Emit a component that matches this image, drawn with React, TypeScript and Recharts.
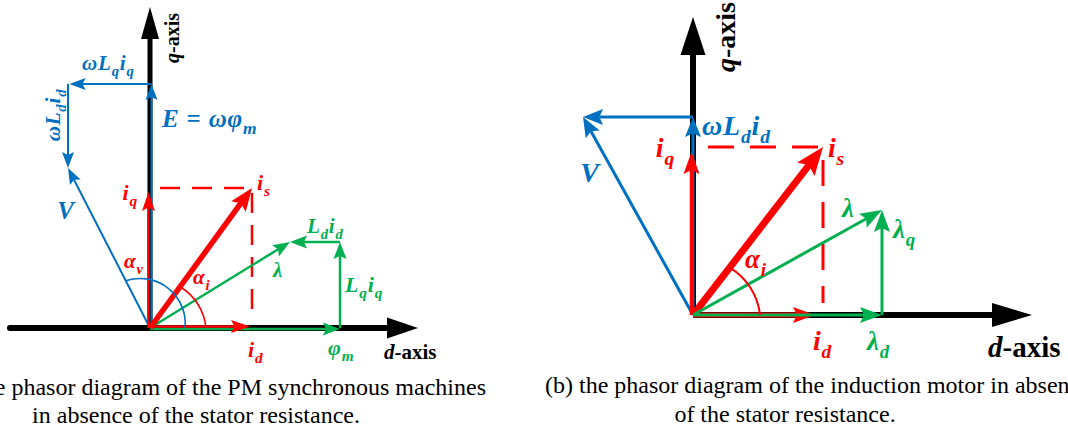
import React from 'react';
import { ComposedChart, XAxis, YAxis, ReferenceLine, ReferenceDot } from 'recharts';

// ---------------------------------------------------------------------------
// Phasor values, d/q components in drawing units
// ---------------------------------------------------------------------------

// (a) PM synchronous machine
const pmAxisExtent = [-14.0, 26.8, 32.1]; // d-axis start, d-axis end, q-axis end
const pmCurrent = [10.0, 13.6]; // i_d, i_q
const pmStatorCurrent = [10.2, 14.0]; // i_s (d, q)
const pmFlux = [19.0, 8.6, -5.0]; // φ_m, L_q·i_q, L_d·i_d
const pmVoltage = [24.4, -8.2, -8.4]; // E = ωφ_m, ωL_q·i_q, ωL_d·i_d

// (b) induction motor
const imAxisExtent = [33.9, 29.8]; // d-axis end, q-axis end
const imCurrent = [12.2, 16.3]; // i_d, i_q
const imStatorCurrent = [13.0, 16.8]; // i_s (d, q)
const imFlux = [18.9, 10.5]; // λ_d, λ_q
const imVoltage = [19.8, -11.0]; // ωL_d·i_d, horizontal drop

// captions
const captionA = ['(a) the phasor diagram of the PM synchronous machines', 'in absence of the stator resistance.'];
const captionB = ['(b) the phasor diagram of the induction motor in absence', 'of the stator resistance.'];

const BLUE = '#0070C0';
const RED = '#FF0000';
const GREEN = '#00B050';
const BLACK = '#000000';
const SERIF = "'Liberation Serif', 'Times New Roman', serif";

type Part = { t: string; sub?: boolean; up?: boolean };

// ---------------------------------------------------------------------------
// shapes
// ---------------------------------------------------------------------------

type ArrowOpts = {
  color: string;
  width: number;
  headLen: number;
  headHalf: number;
  notch?: number;
  dx?: number;
  dy?: number;
  roundStart?: boolean;
};

const arrowShape = (o: ArrowOpts) => (p: any) => {
  const ox = o.dx ?? 0;
  const oy = o.dy ?? 0;
  const x1 = p.x1 + ox;
  const y1 = p.y1 + oy;
  const x2 = p.x2 + ox;
  const y2 = p.y2 + oy;
  const len = Math.hypot(x2 - x1, y2 - y1) || 1;
  const ux = (x2 - x1) / len;
  const uy = (y2 - y1) / len;
  const nx = -uy;
  const ny = ux;
  const notch = o.notch ?? 0.82;
  const bx = x2 - ux * o.headLen;
  const by = y2 - uy * o.headLen;
  const mx = x2 - ux * o.headLen * notch;
  const my = y2 - uy * o.headLen * notch;
  const pts = [
    `${x2},${y2}`,
    `${bx + nx * o.headHalf},${by + ny * o.headHalf}`,
    `${mx},${my}`,
    `${bx - nx * o.headHalf},${by - ny * o.headHalf}`,
  ].join(' ');
  return (
    <g>
      <line
        x1={x1}
        y1={y1}
        x2={mx}
        y2={my}
        stroke={o.color}
        strokeWidth={o.width}
        strokeLinecap={o.roundStart ? 'round' : 'butt'}
      />
      <polygon points={pts} fill={o.color} />
    </g>
  );
};

const dashShape =
  (color: string, width: number, dash: string, trimStart: number, trimEnd: number) => (p: any) => {
    const len = Math.hypot(p.x2 - p.x1, p.y2 - p.y1) || 1;
    const ux = (p.x2 - p.x1) / len;
    const uy = (p.y2 - p.y1) / len;
    return (
      <line
        x1={p.x1 + ux * trimStart}
        y1={p.y1 + uy * trimStart}
        x2={p.x2 - ux * trimEnd}
        y2={p.y2 - uy * trimEnd}
        stroke={color}
        strokeWidth={width}
        strokeDasharray={dash}
      />
    );
  };

const arcShape = (color: string, width: number, r: number) => (p: any) => (
  <path
    d={`M ${p.x1} ${p.y1} A ${r} ${r} 0 0 0 ${p.x2} ${p.y2}`}
    fill="none"
    stroke={color}
    strokeWidth={width}
  />
);

const MathText = ({
  cx,
  cy,
  parts,
  size,
  color,
  anchor = 'start',
  rotate,
  spacing = 0,
}: {
  cx: number;
  cy: number;
  parts: Part[];
  size: number;
  color: string;
  anchor?: 'start' | 'middle' | 'end';
  rotate?: number;
  spacing?: number;
}) => {
  const shift = size * 0.28;
  let low = false;
  const spans = parts.map((part, i) => {
    let dy = 0;
    if (part.sub && !low) dy = shift;
    if (!part.sub && low) dy = -shift;
    low = !!part.sub;
    return (
      <tspan
        key={i}
        dy={dy || undefined}
        fontSize={part.sub ? size * 0.7 : size}
        fontStyle={part.up ? 'normal' : 'italic'}
      >
        {part.t}
      </tspan>
    );
  });
  return (
    <text
      x={cx}
      y={cy}
      fill={color}
      fontFamily={SERIF}
      fontWeight="bold"
      fontSize={size}
      letterSpacing={spacing}
      textAnchor={anchor}
      transform={rotate ? `rotate(${rotate} ${cx} ${cy})` : undefined}
    >
      {spans}
    </text>
  );
};

const labelShape =
  (parts: Part[], size: number, color: string, anchor?: 'start' | 'middle' | 'end', rotate?: number, spacing = 0.8) =>
  (p: any) => (
    <MathText cx={p.cx} cy={p.cy} parts={parts} size={size} color={color} anchor={anchor} rotate={rotate} spacing={spacing} />
  );

const axisParts = (name: string): Part[] => [{ t: name }, { t: '-axis', up: true }];

const unit = (d: number, q: number) => {
  const m = Math.hypot(d, q) || 1;
  return [d / m, q / m];
};

const seg = (a: number[], b: number[]) => [
  { x: a[0], y: a[1] },
  { x: b[0], y: b[1] },
];

// ---------------------------------------------------------------------------
// (a) PM synchronous machine
// ---------------------------------------------------------------------------

const PmDiagram = () => {
  const [dStart, dEnd, qEnd] = pmAxisExtent;
  const [id, iq] = pmCurrent;
  const [isd, isq] = pmStatorCurrent;
  const [psiM, lqIq, ldId] = pmFlux;
  const [e, wLqIq, wLdId] = pmVoltage;
  const v = [wLqIq, e + wLdId];
  const lam = [psiM + ldId, lqIq];
  const vu = unit(v[0], v[1]);
  const su = unit(isd, isq);
  const O = [0, 0];

  const blue = { color: BLUE, width: 2, headLen: 16, headHalf: 6 };
  const green = { color: GREEN, width: 2.5, headLen: 17, headHalf: 6.5 };
  const red = { color: RED, width: 2.5, headLen: 19, headHalf: 6.5 };

  return (
    <ComposedChart width={534} height={430} data={[{ x: 0, y: 0 }]} margin={{ top: 0, right: 0, bottom: 0, left: 0 }}>
      <XAxis type="number" dataKey="x" domain={[-15, 38.4]} hide allowDataOverflow />
      <YAxis type="number" dataKey="y" domain={[-10.2, 32.8]} hide allowDataOverflow />

      {/* axes */}
      <ReferenceLine segment={seg([dStart, 0], [dEnd, 0])} shape={arrowShape({ color: BLACK, width: 6, headLen: 31, headHalf: 10.5, notch: 1, roundStart: true })} />
      <ReferenceLine segment={seg(O, [0, qEnd])} shape={arrowShape({ color: BLACK, width: 5, headLen: 32, headHalf: 9, notch: 1 })} />

      {/* current projections */}
      <ReferenceLine segment={seg([0, isq], [isd, isq])} shape={dashShape(RED, 2.5, '20 12', 10, 0)} />
      <ReferenceLine segment={seg([isd, isq], [isd, 0])} shape={dashShape(RED, 2.5, '20 12', 5, 11)} />

      {/* voltage phasors */}
      <ReferenceLine segment={seg(O, [0, e])} shape={arrowShape({ ...blue, dx: 1.5 })} />
      <ReferenceLine segment={seg([0, e], [wLqIq, e])} shape={arrowShape({ ...blue, dx: 1.5 })} />
      <ReferenceLine segment={seg([wLqIq, e], [wLqIq, e + wLdId])} shape={arrowShape(blue)} />
      <ReferenceLine segment={seg(O, v)} shape={arrowShape(blue)} />

      {/* flux phasors */}
      <ReferenceLine segment={seg(O, [psiM, 0])} shape={arrowShape({ ...green, dy: 1 })} />
      <ReferenceLine segment={seg([psiM, 0], [psiM, lqIq])} shape={arrowShape(green)} />
      <ReferenceLine segment={seg([psiM, lqIq], lam)} shape={arrowShape(green)} />
      <ReferenceLine segment={seg(O, lam)} shape={arrowShape(green)} />

      {/* current phasors */}
      <ReferenceLine segment={seg(O, [id, 0])} shape={arrowShape({ ...red, dy: -1.5 })} />
      <ReferenceLine segment={seg(O, [0, iq])} shape={arrowShape({ ...red, dx: -1.5 })} />
      <ReferenceLine segment={seg(O, [isd, isq])} shape={arrowShape({ color: RED, width: 5.5, headLen: 23, headHalf: 9 })} />

      {/* angle markers */}
      <ReferenceLine segment={seg([3.5, 0], [vu[0] * 5.3, vu[1] * 5.3])} shape={arcShape(BLUE, 1.6, 45)} />
      <ReferenceLine segment={seg([5.6, 0], [su[0] * 5.1, su[1] * 5.1])} shape={arcShape(RED, 1.6, 54)} />

      {/* labels */}
      <ReferenceDot x={2.9} y={29.0} r={0} shape={labelShape(axisParts('q'), 20, BLACK, 'middle', -90, 0)} />
      <ReferenceDot x={23.4} y={-3.1} r={0} shape={labelShape(axisParts('d'), 21, BLACK, 'start', undefined, 0)} />
      <ReferenceDot x={-6.8} y={25.8} r={0} shape={labelShape([{ t: 'ω' }, { t: 'L' }, { t: 'q', sub: true }, { t: 'i' }, { t: 'q', sub: true }], 21, BLUE)} />
      <ReferenceDot x={-9.0} y={21.3} r={0} shape={labelShape([{ t: 'ω' }, { t: 'L' }, { t: 'd', sub: true }, { t: 'i' }, { t: 'd', sub: true }], 21, BLUE, 'middle', -90)} />
      <ReferenceDot x={1.2} y={20.1} r={0} shape={labelShape([{ t: 'E' }, { t: ' = ', up: true }, { t: 'ωφ' }, { t: 'm', sub: true }], 25, BLUE)} />
      <ReferenceDot x={-8.4} y={10.9} r={0} shape={labelShape([{ t: 'V' }], 25, BLUE, 'middle')} />
      <ReferenceDot x={-1.2} y={12.8} r={0} shape={labelShape([{ t: 'i' }, { t: 'q', sub: true }], 22, RED, 'end')} />
      <ReferenceDot x={10.7} y={13.8} r={0} shape={labelShape([{ t: 'i' }, { t: 's', sub: true }], 22, RED)} />
      <ReferenceDot x={9.8} y={-2.9} r={0} shape={labelShape([{ t: 'i' }, { t: 'd', sub: true }], 22, RED)} />
      <ReferenceDot x={17.8} y={-2.7} r={0} shape={labelShape([{ t: 'φ' }, { t: 'm', sub: true }], 22, GREEN)} />
      <ReferenceDot x={19.5} y={3.6} r={0} shape={labelShape([{ t: 'L' }, { t: 'q', sub: true }, { t: 'i' }, { t: 'q', sub: true }], 22, GREEN)} />
      <ReferenceDot x={15.7} y={9.5} r={0} shape={labelShape([{ t: 'L' }, { t: 'd', sub: true }, { t: 'i' }, { t: 'd', sub: true }], 21, GREEN)} />
      <ReferenceDot x={12.3} y={5.1} r={0} shape={labelShape([{ t: 'λ' }], 21, GREEN)} />
      <ReferenceDot x={-2.6} y={6.0} r={0} shape={labelShape([{ t: 'α' }, { t: 'v', sub: true }], 21, RED)} />
      <ReferenceDot x={4.3} y={4.4} r={0} shape={labelShape([{ t: 'α' }, { t: 'i', sub: true }], 21, RED)} />
    </ComposedChart>
  );
};

// ---------------------------------------------------------------------------
// (b) induction motor
// ---------------------------------------------------------------------------

const ImDiagram = () => {
  const [dEnd, qEnd] = imAxisExtent;
  const [id, iq] = imCurrent;
  const [isd, isq] = imStatorCurrent;
  const [lamD, lamQ] = imFlux;
  const [wLdId, drop] = imVoltage;
  const v = [drop, wLdId];
  const su = unit(isd, isq);
  const O = [0, 0];

  const blue = { color: BLUE, width: 3, headLen: 20, headHalf: 8 };
  const green = { color: GREEN, width: 3, headLen: 22, headHalf: 8 };
  const red = { color: RED, width: 3.5, headLen: 22, headHalf: 8 };

  return (
    <ComposedChart width={534} height={430} data={[{ x: 0, y: 0 }]} margin={{ top: 0, right: 0, bottom: 0, left: 0 }}>
      <XAxis type="number" dataKey="x" domain={[-15.9, 37.5]} hide allowDataOverflow />
      <YAxis type="number" dataKey="y" domain={[-11.5, 31.5]} hide allowDataOverflow />

      {/* axes */}
      <ReferenceLine segment={seg(O, [dEnd, 0])} shape={arrowShape({ color: BLACK, width: 6, headLen: 40, headHalf: 12, notch: 1 })} />
      <ReferenceLine segment={seg(O, [0, qEnd])} shape={arrowShape({ color: BLACK, width: 6, headLen: 38, headHalf: 12.5, notch: 1 })} />

      {/* current projections */}
      <ReferenceLine segment={seg([0, isq], [isd, isq])} shape={dashShape(RED, 3, '26 16', 15, 0)} />
      <ReferenceLine segment={seg([isd, isq], [isd, 0])} shape={dashShape(RED, 3, '26 16', 13, 12)} />

      {/* voltage phasors */}
      <ReferenceLine segment={seg(O, [0, wLdId])} shape={arrowShape(blue)} />
      <ReferenceLine segment={seg([0, wLdId], v)} shape={arrowShape(blue)} />
      <ReferenceLine segment={seg(O, v)} shape={arrowShape(blue)} />

      {/* current phasors */}
      <ReferenceLine segment={seg(O, [id, 0])} shape={arrowShape({ ...red, width: 5 })} />
      <ReferenceLine segment={seg(O, [0, iq])} shape={arrowShape({ ...red, dx: -1.5 })} />
      <ReferenceLine segment={seg(O, [isd, isq])} shape={arrowShape({ color: RED, width: 7, headLen: 28, headHalf: 11 })} />

      {/* flux phasors */}
      <ReferenceLine segment={seg(O, [lamD, 0])} shape={arrowShape(green)} />
      <ReferenceLine segment={seg([lamD, 0], [lamD, lamQ])} shape={arrowShape(green)} />
      <ReferenceLine segment={seg(O, [lamD, lamQ])} shape={arrowShape(green)} />

      {/* angle marker */}
      <ReferenceLine segment={seg([6.7, 0], [su[0] * 6.0, su[1] * 6.0])} shape={arcShape(RED, 2, 63)} />

      {/* labels */}
      <ReferenceDot x={4.2} y={27.8} r={0} shape={labelShape(axisParts('q'), 28, BLACK, 'middle', -90, 0)} />
      <ReferenceDot x={29.5} y={-4.2} r={0} shape={labelShape(axisParts('d'), 29, BLACK, 'start', undefined, 0)} />
      <ReferenceDot x={0.9} y={18.0} r={0} shape={labelShape([{ t: 'ω' }, { t: 'L' }, { t: 'd', sub: true }, { t: 'i' }, { t: 'd', sub: true }], 28, BLUE)} />
      <ReferenceDot x={-10.3} y={13.3} r={0} shape={labelShape([{ t: 'V' }], 28, BLUE, 'middle')} />
      <ReferenceDot x={-1.8} y={15.8} r={0} shape={labelShape([{ t: 'i' }, { t: 'q', sub: true }], 28, RED, 'end')} />
      <ReferenceDot x={13.5} y={15.8} r={0} shape={labelShape([{ t: 'i' }, { t: 's', sub: true }], 28, RED)} />
      <ReferenceDot x={12.0} y={-3.5} r={0} shape={labelShape([{ t: 'i' }, { t: 'd', sub: true }], 28, RED)} />
      <ReferenceDot x={17.4} y={-3.5} r={0} shape={labelShape([{ t: 'λ' }, { t: 'd', sub: true }], 27, GREEN)} />
      <ReferenceDot x={20.0} y={7.7} r={0} shape={labelShape([{ t: 'λ' }, { t: 'q', sub: true }], 27, GREEN)} />
      <ReferenceDot x={14.9} y={9.8} r={0} shape={labelShape([{ t: 'λ' }], 27, GREEN)} />
      <ReferenceDot x={5.2} y={4.7} r={0} shape={labelShape([{ t: 'α' }, { t: 'i', sub: true }], 27, RED)} />
    </ComposedChart>
  );
};

// ---------------------------------------------------------------------------

const Captions = () => (
  <svg width={1068} height={430} style={{ position: 'absolute', left: 0, top: 0, pointerEvents: 'none' }}>
    <g fontFamily={SERIF} fontSize={24} fill={BLACK}>
      <text x={486} y={395} textAnchor="end">{captionA[0]}</text>
      <text x={196} y={423} textAnchor="middle">{captionA[1]}</text>
      <text x={545} y={393} textAnchor="start">{captionB[0]}</text>
      <text x={785} y={422} textAnchor="middle">{captionB[1]}</text>
    </g>
  </svg>
);

export default function App() {
  return (
    <div
      style={{
        position: 'absolute',
        left: 0,
        top: 0,
        width: 1068,
        height: 430,
        overflow: 'hidden',
        background: '#ffffff',
      }}
    >
      <div style={{ position: 'absolute', left: 0, top: 0 }}>
        <PmDiagram />
      </div>
      <div style={{ position: 'absolute', left: 534, top: 0 }}>
        <ImDiagram />
      </div>
      <Captions />
    </div>
  );
}
